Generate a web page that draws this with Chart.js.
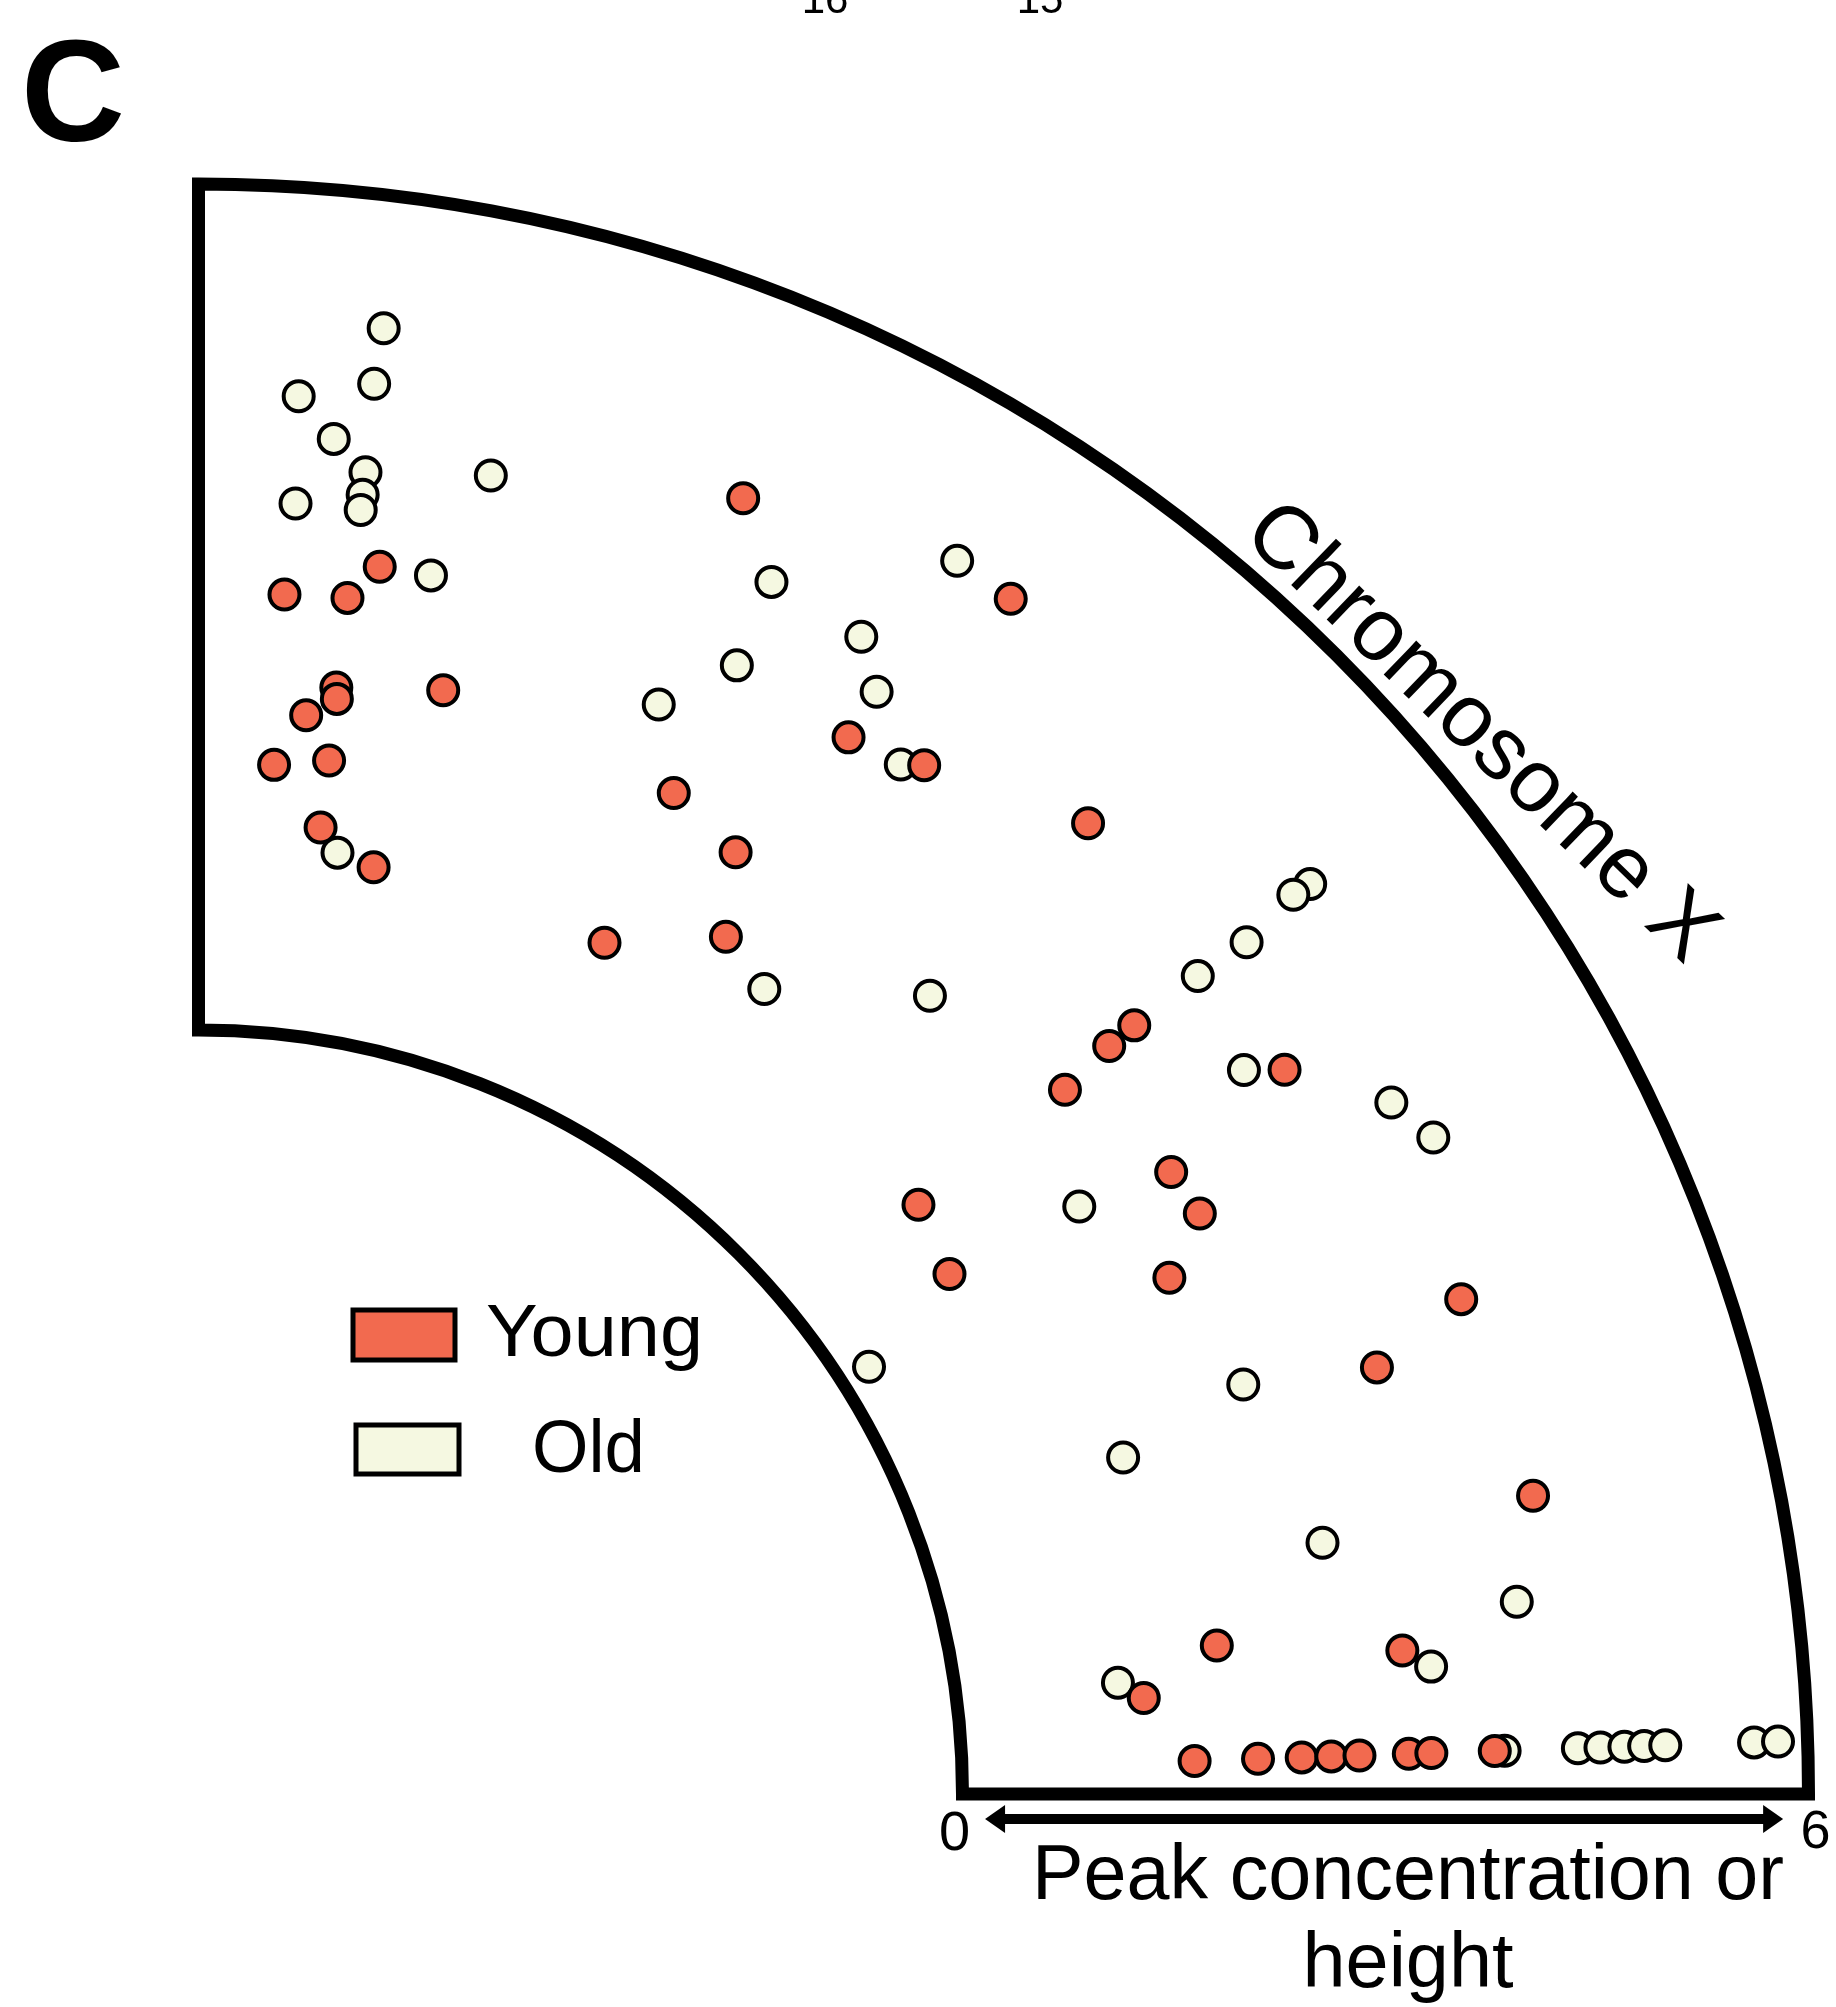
<!DOCTYPE html>
<html>
<head>
<meta charset="utf-8">
<script src="https://cdn.jsdelivr.net/npm/chart.js@4.4.0/dist/chart.umd.min.js"></script>
<style>
    html, body { margin: 0; padding: 0; background: #fff; }
    #chart { display: block; }
</style>
</head>
<body>
<canvas id="chart" width="1836" height="2007"></canvas>
<script>
// position along chromosome X, in degrees of the arc (0 = bottom edge, 90 = left edge)
const youngPosition = [67.2, 85.9, 82.9, 81.6, 55.8, 82.9, 82.8, 77.5, 84.3, 85.8, 82.8,
    58.4, 54.8, 64.6, 47.5, 60.3, 82.8, 79.3, 64.5, 58.4, 39.4, 39.4, 39.1, 33.7, 32.6,
    30.1, 39.3, 34.7, 28.0, 21.4, 19.9, 12.6, 8.3, 6.8, 5.8,
    1.9, 1.9, 1.9, 1.9, 1.9, 1.9, 1.9, 1.9];
// peak concentration or height (0 - 6)
const youngPeak = [4.55, 3.11, 3.13, 3.38, 4.83, 2.49, 2.41, 2.60, 2.27, 1.90, 1.97,
    3.38, 3.51, 2.44, 3.92, 2.27, 1.49, 1.27, 1.27, 1.72, 3.17, 2.94, 2.50, 3.84, 2.77,
    2.79, 1.18, 1.06, 2.38, 4.20, 3.47, 4.28, 1.88, 3.18, 1.32,
    1.65, 2.10, 2.41, 2.62, 2.82, 3.17, 3.33, 3.78];

const oldPosition = [82.8, 85.9, 82.9, 84.3, 82.8, 85.7, 82.8, 82.8, 77.5, 79.2, 81.6,
    58.4, 64.7, 60.2, 64.5, 58.4, 67.1, 55.7, 54.9, 47.5, 39.3, 39.4, 39.1, 39.3, 34.7,
    30.1, 28.0, 33.7, 32.5, 21.4, 20.0, 12.6, 8.3, 6.9, 5.9,
    1.9, 1.9, 1.9, 1.9, 1.9, 1.9, 1.9, 1.9];
const oldPeak = [5.06, 4.52, 4.66, 4.24, 4.03, 3.76, 3.87, 3.76, 4.16, 3.38, 1.33,
    4.85, 4.09, 4.04, 3.45, 3.76, 2.97, 3.42, 1.56, 2.26, 4.77, 4.63, 4.16, 3.74, 3.60,
    4.36, 4.50, 2.09, 0.22, 2.54, 1.56, 2.75, 4.03, 1.15, 3.37,
    3.85, 4.37, 4.53, 4.70, 4.84, 4.99, 5.62, 5.79];

const peakRange = [0, 6];
const peakTicks = ['0', '6'];
const seriesNames = ['Young', 'Old'];

const YOUNG_COLOR = '#F26A4F';
const OLD_COLOR = '#F5F8E1';
const FONT = '"Liberation Sans", Arial, sans-serif';

// layout: centre of the quarter ring and pixels per peak unit
const W = 1836, H = 2007;
const CX = 198.5, CY = 1794, PX = 141;
const INNER = 764 / PX; // inner radius, in peak units

function toPoints(position, peak) {
    return position.map((deg, i) => {
        const r = INNER + peak[i];
        const a = deg * Math.PI / 180;
        return { x: r * Math.cos(a), y: r * Math.sin(a) };
    });
}

function drawText(ctx, text, x, y, size, opts = {}) {
    ctx.save();
    ctx.font = `${opts.bold ? 'bold ' : ''}${size}px ${FONT}`;
    ctx.fillStyle = '#000';
    ctx.textBaseline = 'alphabetic';
    ctx.textAlign = 'left';
    const w = ctx.measureText(text).width;
    const sx = opts.width ? opts.width / w : 1;
    ctx.translate(x, y);
    if (opts.rotate) ctx.rotate(opts.rotate);
    ctx.scale(sx, 1);
    const dx = opts.align === 'center' ? -w / 2 : 0;
    const dy = opts.capMiddle ? size * 0.716 / 2 : 0;
    ctx.fillText(text, dx, dy);
    ctx.restore();
}

const ringPlugin = {
    id: 'ring',
    beforeDatasetsDraw(chart) {
        const { ctx, scales: { x, y } } = chart;
        const cx = x.getPixelForValue(0);
        const cy = y.getPixelForValue(0);
        const rIn = x.getPixelForValue(INNER + peakRange[0]) - cx;
        const rOut = x.getPixelForValue(INNER + peakRange[1]) - cx;

        ctx.save();
        ctx.strokeStyle = '#000';
        ctx.lineWidth = 13;
        ctx.lineJoin = 'miter';
        ctx.beginPath();
        ctx.moveTo(cx, cy - rOut);
        ctx.lineTo(cx, cy - rIn);
        ctx.arc(cx, cy, rIn, -Math.PI / 2, 0, false);
        ctx.lineTo(cx + rOut, cy);
        ctx.arc(cx, cy, rOut, 0, -Math.PI / 2, true);
        ctx.closePath();
        ctx.stroke();
        ctx.restore();
    },
    afterDatasetsDraw(chart) {
        const { ctx, scales: { x, y } } = chart;
        const cy = y.getPixelForValue(0);
        const px0 = x.getPixelForValue(INNER + peakRange[0]);
        const px6 = x.getPixelForValue(INNER + peakRange[1]);

        // double headed arrow under the bottom edge
        const ay = cy + 25;
        const a0 = x.getPixelForValue(INNER + 0.16);
        const a1 = x.getPixelForValue(INNER + 5.82);
        ctx.save();
        ctx.strokeStyle = '#000';
        ctx.fillStyle = '#000';
        ctx.lineWidth = 10;
        ctx.beginPath();
        ctx.moveTo(a0 + 14, ay);
        ctx.lineTo(a1 - 14, ay);
        ctx.stroke();
        ctx.beginPath();
        ctx.moveTo(a0, ay);
        ctx.lineTo(a0 + 20, ay - 14);
        ctx.lineTo(a0 + 20, ay + 14);
        ctx.closePath();
        ctx.fill();
        ctx.beginPath();
        ctx.moveTo(a1, ay);
        ctx.lineTo(a1 - 20, ay - 14);
        ctx.lineTo(a1 - 20, ay + 14);
        ctx.closePath();
        ctx.fill();
        ctx.restore();

        drawText(ctx, peakTicks[0], px0 - 8, cy + 36, 56, { align: 'center', capMiddle: true });
        drawText(ctx, peakTicks[1], px6 + 7, cy + 35, 54, { align: 'center', capMiddle: true });
        drawText(ctx, 'Peak concentration or', 1408, 1899, 77, { align: 'center', width: 752 });
        drawText(ctx, 'height', 1408, 1987, 77, { align: 'center', width: 211 });

        drawText(ctx, 'Chromosome X', 1485, 728, 89, { align: 'center', capMiddle: true, rotate: 44 * Math.PI / 180 });

        // panel letter and cut-off labels from the panel above
        drawText(ctx, 'C', 21, 141, 144, { bold: true });
        drawText(ctx, '16', 825, 13, 42, { align: 'center' });
        drawText(ctx, '15', 1040, 13, 42, { align: 'center' });

        // legend
        ctx.save();
        ctx.lineWidth = 5;
        ctx.strokeStyle = '#000';
        ctx.fillStyle = YOUNG_COLOR;
        ctx.fillRect(353, 1310, 102, 50);
        ctx.strokeRect(353, 1310, 102, 50);
        ctx.fillStyle = OLD_COLOR;
        ctx.fillRect(356, 1425, 103, 49);
        ctx.strokeRect(356, 1425, 103, 49);
        ctx.restore();
        drawText(ctx, seriesNames[0], 486, 1356, 75, { width: 217 });
        drawText(ctx, seriesNames[1], 532, 1472, 75, { width: 113 });
    }
};

new Chart(document.getElementById('chart'), {
    type: 'scatter',
    data: {
        datasets: [
            {
                label: seriesNames[0],
                data: toPoints(youngPosition, youngPeak),
                backgroundColor: YOUNG_COLOR,
                borderColor: '#000',
                borderWidth: 4,
                pointRadius: 15,
                pointHoverRadius: 15
            },
            {
                label: seriesNames[1],
                data: toPoints(oldPosition, oldPeak),
                backgroundColor: OLD_COLOR,
                borderColor: '#000',
                borderWidth: 4,
                pointRadius: 15,
                pointHoverRadius: 15
            }
        ]
    },
    options: {
        responsive: false,
        animation: false,
        devicePixelRatio: 1,
        layout: { padding: 0, autoPadding: false },
        plugins: {
            legend: { display: false },
            tooltip: { enabled: false }
        },
        scales: {
            x: { type: 'linear', display: false, min: -CX / PX, max: (W - CX) / PX },
            y: { type: 'linear', display: false, min: -(H - CY) / PX, max: CY / PX }
        }
    },
    plugins: [ringPlugin]
});
</script>
</body>
</html>
